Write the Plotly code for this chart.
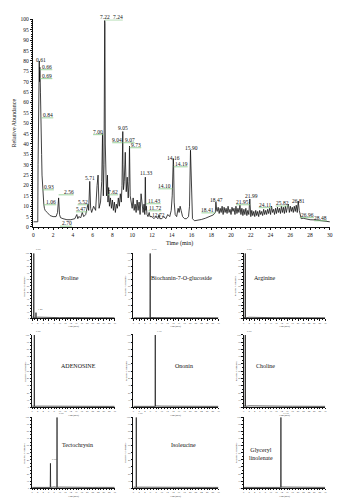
import plotly.graph_objects as go

# ---------------- Main chromatogram data ----------------
time_min = [
    0, 0.45, 0.48, 0.52, 0.56, 0.60, 0.63, 0.66, 0.69, 0.72, 0.76, 0.80, 0.84, 0.88, 0.93, 0.98, 1.02, 1.06,
    1.12, 1.2, 1.4, 1.7, 2.0, 2.3, 2.45, 2.56, 2.65, 2.75,
    3.0, 3.4, 3.8, 4.2, 4.4, 4.5, 4.6, 4.8, 4.95, 5.1, 5.3, 5.47, 5.52, 5.6, 5.71, 5.8, 5.9, 6.1, 6.3, 6.45,
    6.55, 6.65, 6.8, 6.92, 7.0, 7.08, 7.15, 7.22, 7.24, 7.28, 7.33, 7.4, 7.5, 7.55, 7.62, 7.7, 7.8,
    7.9, 8.0, 8.1, 8.2, 8.3, 8.4, 8.5, 8.6, 8.7, 8.8, 8.9, 8.97, 9.04, 9.05, 9.07, 9.12, 9.2, 9.3, 9.4, 9.5,
    9.6, 9.68, 9.73, 9.8, 9.9, 10.0, 10.1, 10.2, 10.3, 10.4, 10.5, 10.6, 10.7, 10.8, 10.9, 11.0, 11.1, 11.2,
    11.28, 11.33, 11.38, 11.43, 11.5, 11.6, 11.72, 11.8,
    12.0, 12.2, 12.4, 12.6, 12.72, 12.8, 13.0, 13.2, 13.4, 13.6, 13.8, 13.95, 14.05, 14.10, 14.16, 14.19,
    14.25, 14.35, 14.5, 14.65, 14.75, 14.85, 14.95, 15.1, 15.3, 15.5, 15.7, 15.8, 15.9, 16.0, 16.1, 16.3,
    16.6, 17.0, 17.4, 17.8, 18.2, 18.41, 18.47, 18.55,
    18.6, 18.7, 18.8, 18.9, 19.0, 19.1, 19.2, 19.3, 19.4, 19.5,
    19.6, 19.7, 19.8, 19.9, 20.0, 20.1, 20.2, 20.3, 20.4, 20.5,
    20.6, 20.7, 20.8, 20.9, 21.0, 21.1, 21.2, 21.3, 21.4, 21.5,
    21.6, 21.7, 21.8, 21.9, 22.0, 22.1, 22.2, 22.3, 22.4, 22.5,
    22.6, 22.7, 22.8, 22.9, 23.0, 23.1, 23.2, 23.3, 23.4, 23.5,
    23.6, 23.7, 23.8, 23.9, 24.0, 24.1, 24.2, 24.3, 24.4, 24.5,
    24.6, 24.7, 24.8, 24.9, 25.0, 25.1, 25.2, 25.3, 25.4, 25.5,
    25.6, 25.7, 25.8, 25.9, 26.0, 26.1, 26.2, 26.3, 26.4, 26.5,
    26.6, 26.7, 26.8, 26.9,
    27.0, 27.1, 27.3, 27.6, 28.0, 28.48, 29.0, 29.5, 30.0,
]
rel_abundance = [
    2.5, 2.5, 30, 75, 60, 80, 70, 77, 72, 65, 40, 44, 35, 25, 20, 14, 12, 11,
    9, 8, 7, 5.5, 5, 5, 7, 14, 6, 4.5,
    4, 3.5, 3.5, 4, 6, 4, 5, 4.5, 7, 5, 6, 9, 11, 8, 22, 9, 7, 10, 8, 20,
    25, 9, 12, 22, 45, 15, 30, 99.5, 98, 40, 20, 15, 25, 12, 19, 10, 14,
    9, 13, 8, 12, 7, 11, 9, 14, 10, 16, 12, 20, 42, 46, 30, 18, 22, 36, 17, 24,
    14, 22, 39, 15, 12, 9, 14, 8, 11, 7, 13, 8, 12, 6, 16, 9, 7, 11,
    6, 24, 8, 10, 6, 5, 7, 5,
    5, 4, 5, 4, 6, 4, 4, 5, 4, 6, 5, 8, 15, 20, 33, 30,
    12, 6, 5, 9, 7, 10, 8, 5, 4, 4, 5, 10, 37, 12, 4, 3,
    3.2, 3.6, 4.2, 5.0, 5.8, 7, 12, 8,
    7.5, 9.5, 6.5, 9, 7, 10, 6, 9.5, 7, 9,
    6.5, 10, 7, 8.5, 6, 9.5, 7.5, 9, 6, 10,
    6.5, 9, 7, 10.5, 6, 9, 5.5, 8.5, 6, 9,
    5.5, 8, 6, 13.5, 5, 8, 5.5, 7.5, 5, 8,
    5.5, 7.5, 5, 8, 6, 7.5, 5.5, 8.5, 6, 8,
    6, 8.5, 6.5, 9, 6, 10, 7, 8.5, 6, 9,
    6.5, 9.5, 7, 9, 6.5, 10, 7, 9.5, 6.5, 10,
    7, 9.5, 11, 7, 10, 7.5, 9.5, 7, 10, 7.5,
    10.5, 7, 12.5, 8,
    5, 4, 4.2, 3.8, 3.5, 3.4, 3, 2.8, 2.5,
]

x_ticks = [0, 2, 4, 6, 8, 10, 12, 14, 16, 18, 20, 22, 24, 26, 28, 30]
y_ticks = [0, 5, 10, 15, 20, 25, 30, 35, 40, 45, 50, 55, 60, 65, 70, 75, 80, 85, 90, 95, 100]

peak_labels = ["0.61", "0.66", "0.69", "0.84", "0.93", "1.06", "2.56", "2.70", "5.47", "5.52", "5.71",
               "7.00", "7.22", "7.24", "7.62", "9.04", "9.05", "9.07", "9.73", "11.33", "11.43", "11.72",
               "12.72", "14.10", "14.16", "14.19", "15.90", "18.41", "18.47", "21.95", "21.99", "24.11",
               "25.82", "26.81", "26.96", "28.48"]

# label placement (layout, in data units)
label_pos = [(0.73, 80.3), (1.4, 77.3), (1.4, 73), (1.5, 54.1), (1.56, 19.4), (1.8, 12.2), (3.56, 17),
             (3.4, 1.9), (4.83, 8.8), (5.0, 12.2), (5.73, 23.8), (6.56, 46), (7.23, 101.3), (8.53, 101.3),
             (8.06, 17), (8.5, 42.1), (9.06, 47.6), (9.73, 42.1), (10.4, 39.7), (11.4, 25.9), (12.23, 12.7),
             (12.3, 9.3), (12.66, 6.0), (13.3, 19.9), (14.13, 33.3), (14.96, 30.5), (15.96, 38.1),
             (17.66, 8.3), (18.56, 13), (21.16, 12.2), (22.06, 15.1), (23.46, 10.8), (25.16, 11.6),
             (26.83, 12.4), (27.73, 6.0), (29.06, 4.5)]

# ---------------- Small panels data ----------------
panel_names = ["Proline", "Biochanin-7-O-glucoside", "Arginine", "ADENOSINE", "Ononin", "Choline",
               "Tectochrysin", "Isoleucine", "Glyceryl<br>linolenate"]
panel_peak_t = [[0.6, 1.4], [5.9], [0.6], [0.8], [7.7], [0.6], [6.65, 9.05], [1.0], [13.7]]
panel_peak_h = [[100, 9], [100], [100], [100], [100], [100], [35, 100], [100], [100]]
panel_base_t = [0, 2, 4, 6, 8, 10, 12, 14, 16, 18, 20, 22, 24, 26, 28, 30]
panel_base_v = [
    [2.5, 2.0, 1.6, 1.4, 1.5, 1.3, 1.4, 1.2, 1.3, 1.2, 1.3, 1.2, 1.1, 1.2, 1.1, 1.0],
    [1.0, 1.2, 1.4, 1.5, 1.3, 1.2, 1.1, 1.2, 1.0, 1.1, 1.0, 1.1, 1.0, 1.2, 1.0, 1.0],
    [2.0, 1.8, 1.5, 1.4, 1.3, 1.4, 1.2, 1.3, 1.2, 1.1, 1.2, 1.1, 1.2, 1.1, 1.0, 1.0],
    [1.5, 1.3, 1.2, 1.3, 1.2, 1.4, 1.2, 1.1, 1.2, 1.3, 1.2, 1.1, 1.2, 1.1, 1.0, 1.0],
    [1.0, 1.1, 1.2, 1.3, 1.5, 1.3, 1.2, 1.1, 1.2, 1.0, 1.1, 1.0, 1.1, 1.0, 1.0, 1.0],
    [2.0, 1.7, 1.5, 1.4, 1.3, 1.4, 1.2, 1.3, 1.2, 1.2, 1.1, 1.2, 1.1, 1.1, 1.0, 1.0],
    [1.0, 1.1, 1.2, 1.4, 1.6, 1.4, 1.2, 1.1, 1.2, 1.0, 1.1, 1.0, 1.1, 1.0, 1.0, 1.0],
    [1.5, 1.3, 1.2, 1.3, 1.2, 1.1, 1.2, 1.3, 1.2, 1.1, 1.2, 1.1, 1.2, 1.1, 1.0, 1.0],
    [1.0, 1.1, 1.0, 1.2, 1.1, 1.3, 1.4, 1.5, 1.4, 1.2, 1.1, 1.2, 1.0, 1.1, 1.0, 1.0],
]

W, H = 348, 500
FONT = "Liberation Serif"
GREEN = "#86c986"
Y0_PX, PX_PER_UNIT = 226.7, 2.1  # main y axis: 0 at 226.7px, 2.1 px per % (layout)


def fx(px):
    return px / W


def fy(py):
    return 1 - py / H


fig = go.Figure()

fig.add_trace(go.Scatter(x=time_min, y=rel_abundance, mode="lines",
                         line=dict(color="#111111", width=0.8), xaxis="x", yaxis="y",
                         showlegend=False, hoverinfo="skip"))

annotations = []
shapes = []
for txt, (lx, ly) in zip(peak_labels, label_pos):
    if ly <= 100:
        annotations.append(dict(x=lx, y=ly, xref="x", yref="y", text=txt, showarrow=False,
                                font=dict(family=FONT, size=5.5, color="#111111"),
                                xanchor="center", yanchor="middle"))
    else:
        annotations.append(dict(x=lx, y=fy(Y0_PX - ly * PX_PER_UNIT), xref="x", yref="paper", text=txt,
                                showarrow=False, font=dict(family=FONT, size=5.5, color="#111111"),
                                xanchor="center", yanchor="middle"))
    pt = float(txt)
    if abs(pt - lx) > 0.3:
        hw = 0.13 * len(txt)
        x0 = min(pt, lx - hw)
        x1 = max(pt, lx + hw)
        yl = min(ly - 1.5, 99.8)
        shapes.append(dict(type="line", xref="x", yref="y", x0=x0, x1=x1, y0=yl, y1=yl,
                           line=dict(color=GREEN, width=0.8)))

annotations.append(dict(x=fx(13.3), y=fy(121.7), xref="paper", yref="paper", text="Relative Abundance",
                        textangle=-90, showarrow=False, font=dict(family=FONT, size=6, color="#111111"),
                        xanchor="center", yanchor="middle"))
annotations.append(dict(x=fx(181), y=fy(243.5), xref="paper", yref="paper", text="Time (min)",
                        showarrow=False, font=dict(family=FONT, size=6, color="#111111"),
                        xanchor="center", yanchor="middle"))

layout = dict(
    width=W, height=H, margin=dict(l=0, r=0, t=0, b=0),
    paper_bgcolor="white", plot_bgcolor="white", showlegend=False,
    xaxis=dict(domain=[fx(32.7), fx(332.7)], range=[0, 30], anchor="y",
               tickvals=x_ticks, ticktext=[str(v) for v in x_ticks],
               ticks="outside", ticklen=2.5, tickwidth=0.6, tickcolor="#111",
               minor=dict(dtick=0.5, ticks="outside", ticklen=1.5, tickwidth=0.5, tickcolor="#111"),
               showline=True, linecolor="#111", linewidth=0.7, showgrid=False, zeroline=False,
               tickfont=dict(family=FONT, size=5.5, color="#111")),
    yaxis=dict(domain=[fy(Y0_PX), fy(Y0_PX - 100 * PX_PER_UNIT)], range=[0, 100], anchor="x",
               tickvals=y_ticks, ticktext=[str(v) for v in y_ticks],
               ticks="outside", ticklen=2.5, tickwidth=0.6, tickcolor="#111",
               minor=dict(dtick=1, ticks="outside", ticklen=1.3, tickwidth=0.5, tickcolor="#111"),
               showline=True, linecolor="#111", linewidth=0.7, showgrid=False, zeroline=False,
               tickfont=dict(family=FONT, size=5.5, color="#111")),
)

cols = [(31.5, 115), (134, 220), (245.5, 328)]
rows = [(253.3, 319.3), (336, 409), (419.3, 491)]
name_pos = [(70, 278.3), (182.7, 278.3), (266.7, 278.3), (78.3, 367.3), (185, 367.3), (268, 367.3),
            (77.3, 447.3), (185, 447.3), (263.3, 456.7)]

for i in range(9):
    r, c = divmod(i, 3)
    ax = i + 2
    xs = list(panel_base_t)
    ys = list(panel_base_v[i])
    for t, h in zip(panel_peak_t[i], panel_peak_h[i]):
        xs += [t - 0.08, t, t + 0.08]
        ys += [1.0, h, 1.0]
    pts = sorted(zip(xs, ys))
    fig.add_trace(go.Scatter(x=[p[0] for p in pts], y=[p[1] for p in pts], mode="lines",
                             line=dict(color="#111111", width=0.7), xaxis=f"x{ax}", yaxis=f"y{ax}",
                             showlegend=False, hoverinfo="skip"))
    for t, h in zip(panel_peak_t[i], panel_peak_h[i]):
        annotations.append(dict(x=t, y=h, xref=f"x{ax}", yref=f"y{ax}", text=f"{t:.2f}",
                                showarrow=False, font=dict(family=FONT, size=2.5, color="#333"),
                                xanchor="left", yanchor="bottom"))
    x0, x1 = cols[c]
    y0, y1 = rows[r]
    layout[f"xaxis{ax}"] = dict(domain=[fx(x0), fx(x1)], range=[0, 30], anchor=f"y{ax}",
                                dtick=2, ticks="outside", ticklen=1.5, tickwidth=0.5, tickcolor="#111",
                                minor=dict(dtick=1, ticks="outside", ticklen=1, tickwidth=0.4, tickcolor="#111"),
                                showline=True, linecolor="#111", linewidth=0.7, showgrid=False,
                                zeroline=False, tickfont=dict(family=FONT, size=2.5, color="#333"))
    layout[f"yaxis{ax}"] = dict(domain=[fy(y1), fy(y0)], range=[0, 100], anchor=f"x{ax}",
                                dtick=10, ticks="outside", ticklen=1.5, tickwidth=0.5, tickcolor="#111",
                                minor=dict(dtick=5, ticks="outside", ticklen=1, tickwidth=0.4, tickcolor="#111"),
                                showline=True, linecolor="#111", linewidth=0.7, showgrid=False,
                                zeroline=False, tickfont=dict(family=FONT, size=2.5, color="#333"))
    annotations.append(dict(x=fx((x0 + x1) / 2), y=fy(y1 + 8.5), xref="paper", yref="paper",
                            text="Time(min)", showarrow=False,
                            font=dict(family=FONT, size=2.5, color="#333"),
                            xanchor="center", yanchor="middle"))
    annotations.append(dict(x=fx(x0 - 7.5), y=fy((y0 + y1) / 2), xref="paper", yref="paper",
                            text="Relative Abundance", showarrow=False, textangle=-90,
                            font=dict(family=FONT, size=2.5, color="#333"),
                            xanchor="center", yanchor="middle"))
    nx, ny = name_pos[i]
    annotations.append(dict(x=fx(nx), y=fy(ny), xref="paper", yref="paper", text=panel_names[i],
                            showarrow=False, font=dict(family=FONT, size=6, color="#111"),
                            xanchor="center", yanchor="middle"))

layout["annotations"] = annotations
layout["shapes"] = shapes
fig.update_layout(**layout)
fig.write_html("out.html")
